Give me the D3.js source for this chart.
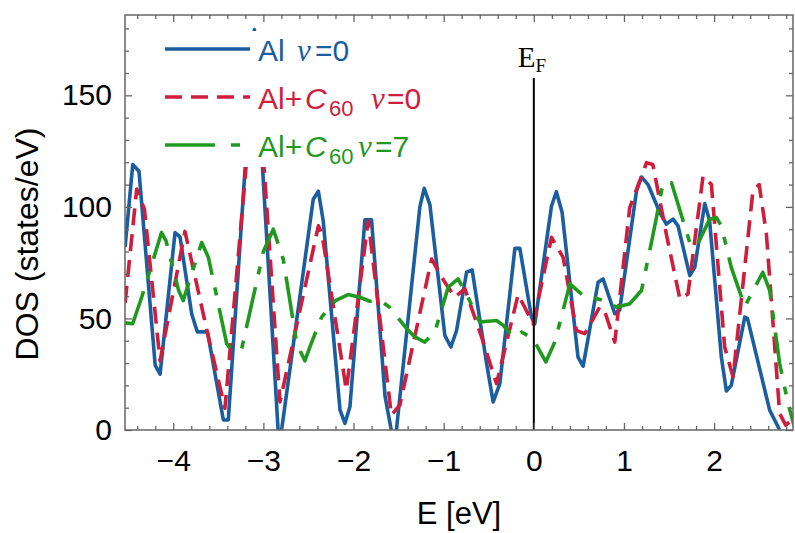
<!DOCTYPE html>
<html lang="en">
<head>
<meta charset="UTF-8" />
<title>DOS</title>
<script src="https://d3js.org/d3.v7.min.js"></script>
<style>
  body { margin: 0; background: #fff; }
  svg { display: block; font-family: "Liberation Sans", Arial, sans-serif; }
  .axis path { display: none; }
  .axis line { stroke: #666; stroke-width: 1.3; }
  .axis text { fill: #000; font-size: 30px; font-family: "Liberation Sans", Arial, sans-serif; }
</style>
</head>
<body>
<svg width="795" height="533"></svg>
<script>
// Al, nu = 0
const alE = [-4.534, -4.449, -4.38, -4.20, -4.146, -3.98, -3.925, -3.795, -3.733, -3.62, -3.444, -3.389,
  -3.10, -2.825, -2.447, -2.39, -2.336, -2.15, -2.095, -2.04, -1.874, -1.80, -1.65, -1.545,
  -1.264, -1.216, -1.153, -0.987, -0.92, -0.857, -0.746, -0.684, -0.524, -0.451, -0.377, -0.21, -0.155,
  -0.026, 0.011, 0.196, 0.25, 0.314, 0.49, 0.547, 0.713, 0.768, 0.898, 0.953, 1.139, 1.194, 1.267,
  1.397, 1.47, 1.544, 1.6, 1.73, 1.785, 1.896, 1.95, 2.08, 2.136, 2.19, 2.34, 2.37, 2.5, 2.616, 2.727];
const alDos = [82, 119, 116, 29, 25, 88.5, 86.6, 52, 44, 44, 4.5, 4.5,
  179.5, -8, 103.4, 107, 93.7, 9, 3, 10.4, 94.2, 94.2, 15, -8,
  100, 108.3, 101, 42.4, 37.2, 44.6, 70.7, 71.7, 29.8, 12.6, 20.8, 81.4, 81.4,
  50.6, 47.6, 100.4, 106.8, 97.5, 32.7, 28.6, 66.2, 67.7, 52.1, 53.9, 107.1, 113.4, 110,
  97.5, 92.3, 94.5, 91.5, 69.2, 72.9, 101.5, 93.75, 32.7, 17.5, 20, 50.6, 50, 28.3, 8.9, 0];

// Al + C60, nu = 0
const c60E = [-4.534, -4.405, -4.32, -4.146, -3.87, -3.61, -3.426, -3.08, -2.816, -2.39, -2.35, -2.08,
  -1.837, -1.58, -1.486, -1.134, -0.987, -0.876, -0.765, -0.58, -0.414, -0.174, -0.008, 0.196, 0.325,
  0.473, 0.565, 0.73, 0.78, 0.898, 1.064, 1.25, 1.32, 1.47, 1.508, 1.62, 1.71, 1.877, 1.97, 2.117,
  2.21, 2.43, 2.5, 2.58, 2.727, 2.794, 2.85];
const c60Dos = [57, 108, 99, 31, 89, 41.7, 9.7, 170, 12.6, 91.5, 88, 18,
  93.8, 6.7, 11.2, 76.6, 66.2, 59.5, 63.3, 41.7, 20.8, 60.7, 47.6, 86.3, 77.4,
  44.6, 43.2, 55, 54, 39.4, 99.7, 119.8, 119, 87.8, 80.4, 58.8, 61, 113.8, 110, 37.2,
  23.8, 107, 110, 87.8, 7.4, 2.2, 4];

// Al + C60, nu = 7
const c60v7E = [-4.534, -4.45, -4.35, -4.13, -4.08, -3.94, -3.89, -3.685, -3.61, -3.407, -3.35, -3.24,
  -3.0, -2.89, -2.78, -2.63, -2.54, -2.47, -2.354, -2.2, -2.06, -1.93, -1.82, -1.69, -1.6, -1.54,
  -1.41, -1.32, -1.21, -1.098, -0.95, -0.84, -0.73, -0.6, -0.414, -0.34, -0.23, -0.136, -0.008,
  0.133, 0.233, 0.4, 0.547, 0.64, 0.806, 0.917, 1.064, 1.194, 1.286, 1.36, 1.434, 1.527, 1.73, 1.8,
  1.95, 2.025, 2.08, 2.19, 2.34, 2.54, 2.617, 2.727, 2.82, 2.89];
const c60v7Dos = [48, 47.6, 59.5, 88.5, 84.8, 62.5, 58, 84, 77.4, 38.7, 35.7, 36.5,
  80, 90, 76.6, 38.7, 31, 38.7, 50.6, 58, 60.7, 59.5, 57.7, 57.7, 55, 52,
  45.4, 41.7, 39.4, 43.9, 64, 67.7, 59.5, 48.4, 49.1, 46.9, 41.7, 43.9, 40.9,
  30.5, 39.4, 65.5, 60.3, 59.5, 57.7, 55, 56.6, 62.5, 80.4, 95.2, 110.8, 110.8, 84, 81.8,
  94.5, 95.2, 91.5, 72.9, 55.4, 70.7, 62.5, 29.8, 11.9, 1.5];

const xTicks = [-4, -3, -2, -1, 0, 1, 2];
const yTicks = [0, 50, 100, 150];
const fermiE = 0;

const svg = d3.select("svg");
const plotL = 125, plotR = 793, plotT = 15, plotB = 430;

const x = d3.scaleLinear().domain([-4.535, 2.875]).range([plotL, plotR]);
const y = d3.scaleLinear().domain([0, 186]).range([plotB, plotT]);

const xMinor = d3.range(-4.4, 2.81, 0.2).filter(v => Math.abs(v - Math.round(v)) > 0.01);
const yMinor = d3.range(10, 181, 10).filter(v => v % 50 !== 0);

svg.append("clipPath").attr("id", "plot")
  .append("rect").attr("x", plotL).attr("y", plotT)
  .attr("width", plotR - plotL).attr("height", plotB - plotT);

const line = d3.line().x(d => x(d[0])).y(d => y(d[1]));

const series = [
  { e: alE, v: alDos, color: "#1b5e9f", dash: null },
  { e: c60E, v: c60Dos, color: "#cf1d3d", dash: "17,9" },
  { e: c60v7E, v: c60v7Dos, color: "#1f9a1f", dash: "42,13,8,13" },
];

const curves = svg.append("g").attr("clip-path", "url(#plot)");
series.forEach(s => {
  curves.append("path")
    .datum(d3.zip(s.e, s.v))
    .attr("d", line)
    .attr("fill", "none")
    .attr("stroke", s.color)
    .attr("stroke-width", 3.6)
    .attr("stroke-dasharray", s.dash)
    .attr("stroke-linejoin", "round");
});

// legend (white box hides curves behind it)
const legend = svg.append("g");
legend.append("rect").attr("x", 150).attr("y", 31).attr("width", 300).attr("height", 136).attr("fill", "#fff");

const legendRows = [
  { y: 49, base: 61 },
  { y: 97, base: 109 },
  { y: 145, base: 157 },
];
series.forEach((s, i) => {
  legend.append("line")
    .attr("x1", 165).attr("x2", 250)
    .attr("y1", legendRows[i].y).attr("y2", legendRows[i].y)
    .attr("stroke", s.color).attr("stroke-width", 3.6)
    .attr("stroke-dasharray", i === 2 ? "50,16,9,30" : s.dash);
});

function legendText(i, parts) {
  const t = legend.append("text")
    .attr("y", legendRows[i].base)
    .attr("fill", series[i].color)
    .attr("font-size", 30);
  parts.forEach(p => {
    const ts = t.append("tspan").attr("x", p.x).text(p.t);
    if (p.serif) ts.attr("font-family", "'Liberation Serif', 'Times New Roman', serif").attr("font-style", "italic").attr("font-size", 31);
    if (p.italic) ts.attr("font-style", "italic");
    if (p.sub) ts.attr("font-size", 22).attr("dy", 7);
    if (p.unsub) ts.attr("dy", -7);
  });
}
legendText(0, [{ t: "Al", x: 258 }, { t: "ν", x: 297, serif: true }, { t: "=0", x: 315 }]);
legendText(1, [{ t: "Al+", x: 258 }, { t: "C", x: 305, italic: true }, { t: "60", x: 329, sub: true },
  { t: "ν", x: 371, serif: true, unsub: true }, { t: "=0", x: 387 }]);
legendText(2, [{ t: "Al+", x: 258 }, { t: "C", x: 305, italic: true }, { t: "60", x: 329, sub: true },
  { t: "ν", x: 358, serif: true, unsub: true }, { t: "=7", x: 375 }]);

// Fermi level
svg.append("line")
  .attr("x1", x(fermiE)).attr("x2", x(fermiE))
  .attr("y1", 78).attr("y2", plotB)
  .attr("stroke", "#000").attr("stroke-width", 2);
const ef = svg.append("text").attr("x", x(fermiE) - 16).attr("y", 67)
  .attr("font-family", "'Liberation Serif', 'Times New Roman', serif").attr("font-size", 29);
ef.append("tspan").text("E");
ef.append("tspan").attr("font-size", 19).attr("dy", 5).text("F");

// axes
const fmt = d3.format("d");
svg.append("g").attr("class", "axis").attr("transform", `translate(0,${plotB})`)
  .call(d3.axisBottom(x).tickValues(xTicks).tickSize(-7).tickSizeOuter(0).tickPadding(20).tickFormat(fmt));
svg.append("g").attr("class", "axis").attr("transform", `translate(0,${plotB})`)
  .call(d3.axisBottom(x).tickValues(xMinor).tickSize(-4).tickSizeOuter(0).tickFormat(""));
svg.append("g").attr("class", "axis").attr("transform", `translate(0,${plotT})`)
  .call(d3.axisTop(x).tickValues(xTicks).tickSize(-7).tickSizeOuter(0).tickFormat(""));
svg.append("g").attr("class", "axis").attr("transform", `translate(0,${plotT})`)
  .call(d3.axisTop(x).tickValues(xMinor).tickSize(-4).tickSizeOuter(0).tickFormat(""));

svg.append("g").attr("class", "axis").attr("transform", `translate(${plotL},0)`)
  .call(d3.axisLeft(y).tickValues(yTicks).tickSize(-7).tickSizeOuter(0).tickPadding(13).tickFormat(fmt));
svg.append("g").attr("class", "axis").attr("transform", `translate(${plotL},0)`)
  .call(d3.axisLeft(y).tickValues(yMinor).tickSize(-4).tickSizeOuter(0).tickFormat(""));
svg.append("g").attr("class", "axis").attr("transform", `translate(${plotR},0)`)
  .call(d3.axisRight(y).tickValues(yTicks).tickSize(-7).tickSizeOuter(0).tickFormat(""));
svg.append("g").attr("class", "axis").attr("transform", `translate(${plotR},0)`)
  .call(d3.axisRight(y).tickValues(yMinor).tickSize(-4).tickSizeOuter(0).tickFormat(""));

svg.append("rect")
  .attr("x", plotL).attr("y", plotT).attr("width", plotR - plotL).attr("height", plotB - plotT)
  .attr("fill", "none").attr("stroke", "#666").attr("stroke-width", 1.5);

// titles
svg.append("text")
  .attr("transform", "translate(38,244) rotate(-90)")
  .attr("text-anchor", "middle").attr("font-size", 32)
  .text("DOS (states/eV)");
svg.append("text")
  .attr("x", (plotL + plotR) / 2).attr("y", 524)
  .attr("text-anchor", "middle").attr("font-size", 31)
  .text("E [eV]");
</script>
</body>
</html>
